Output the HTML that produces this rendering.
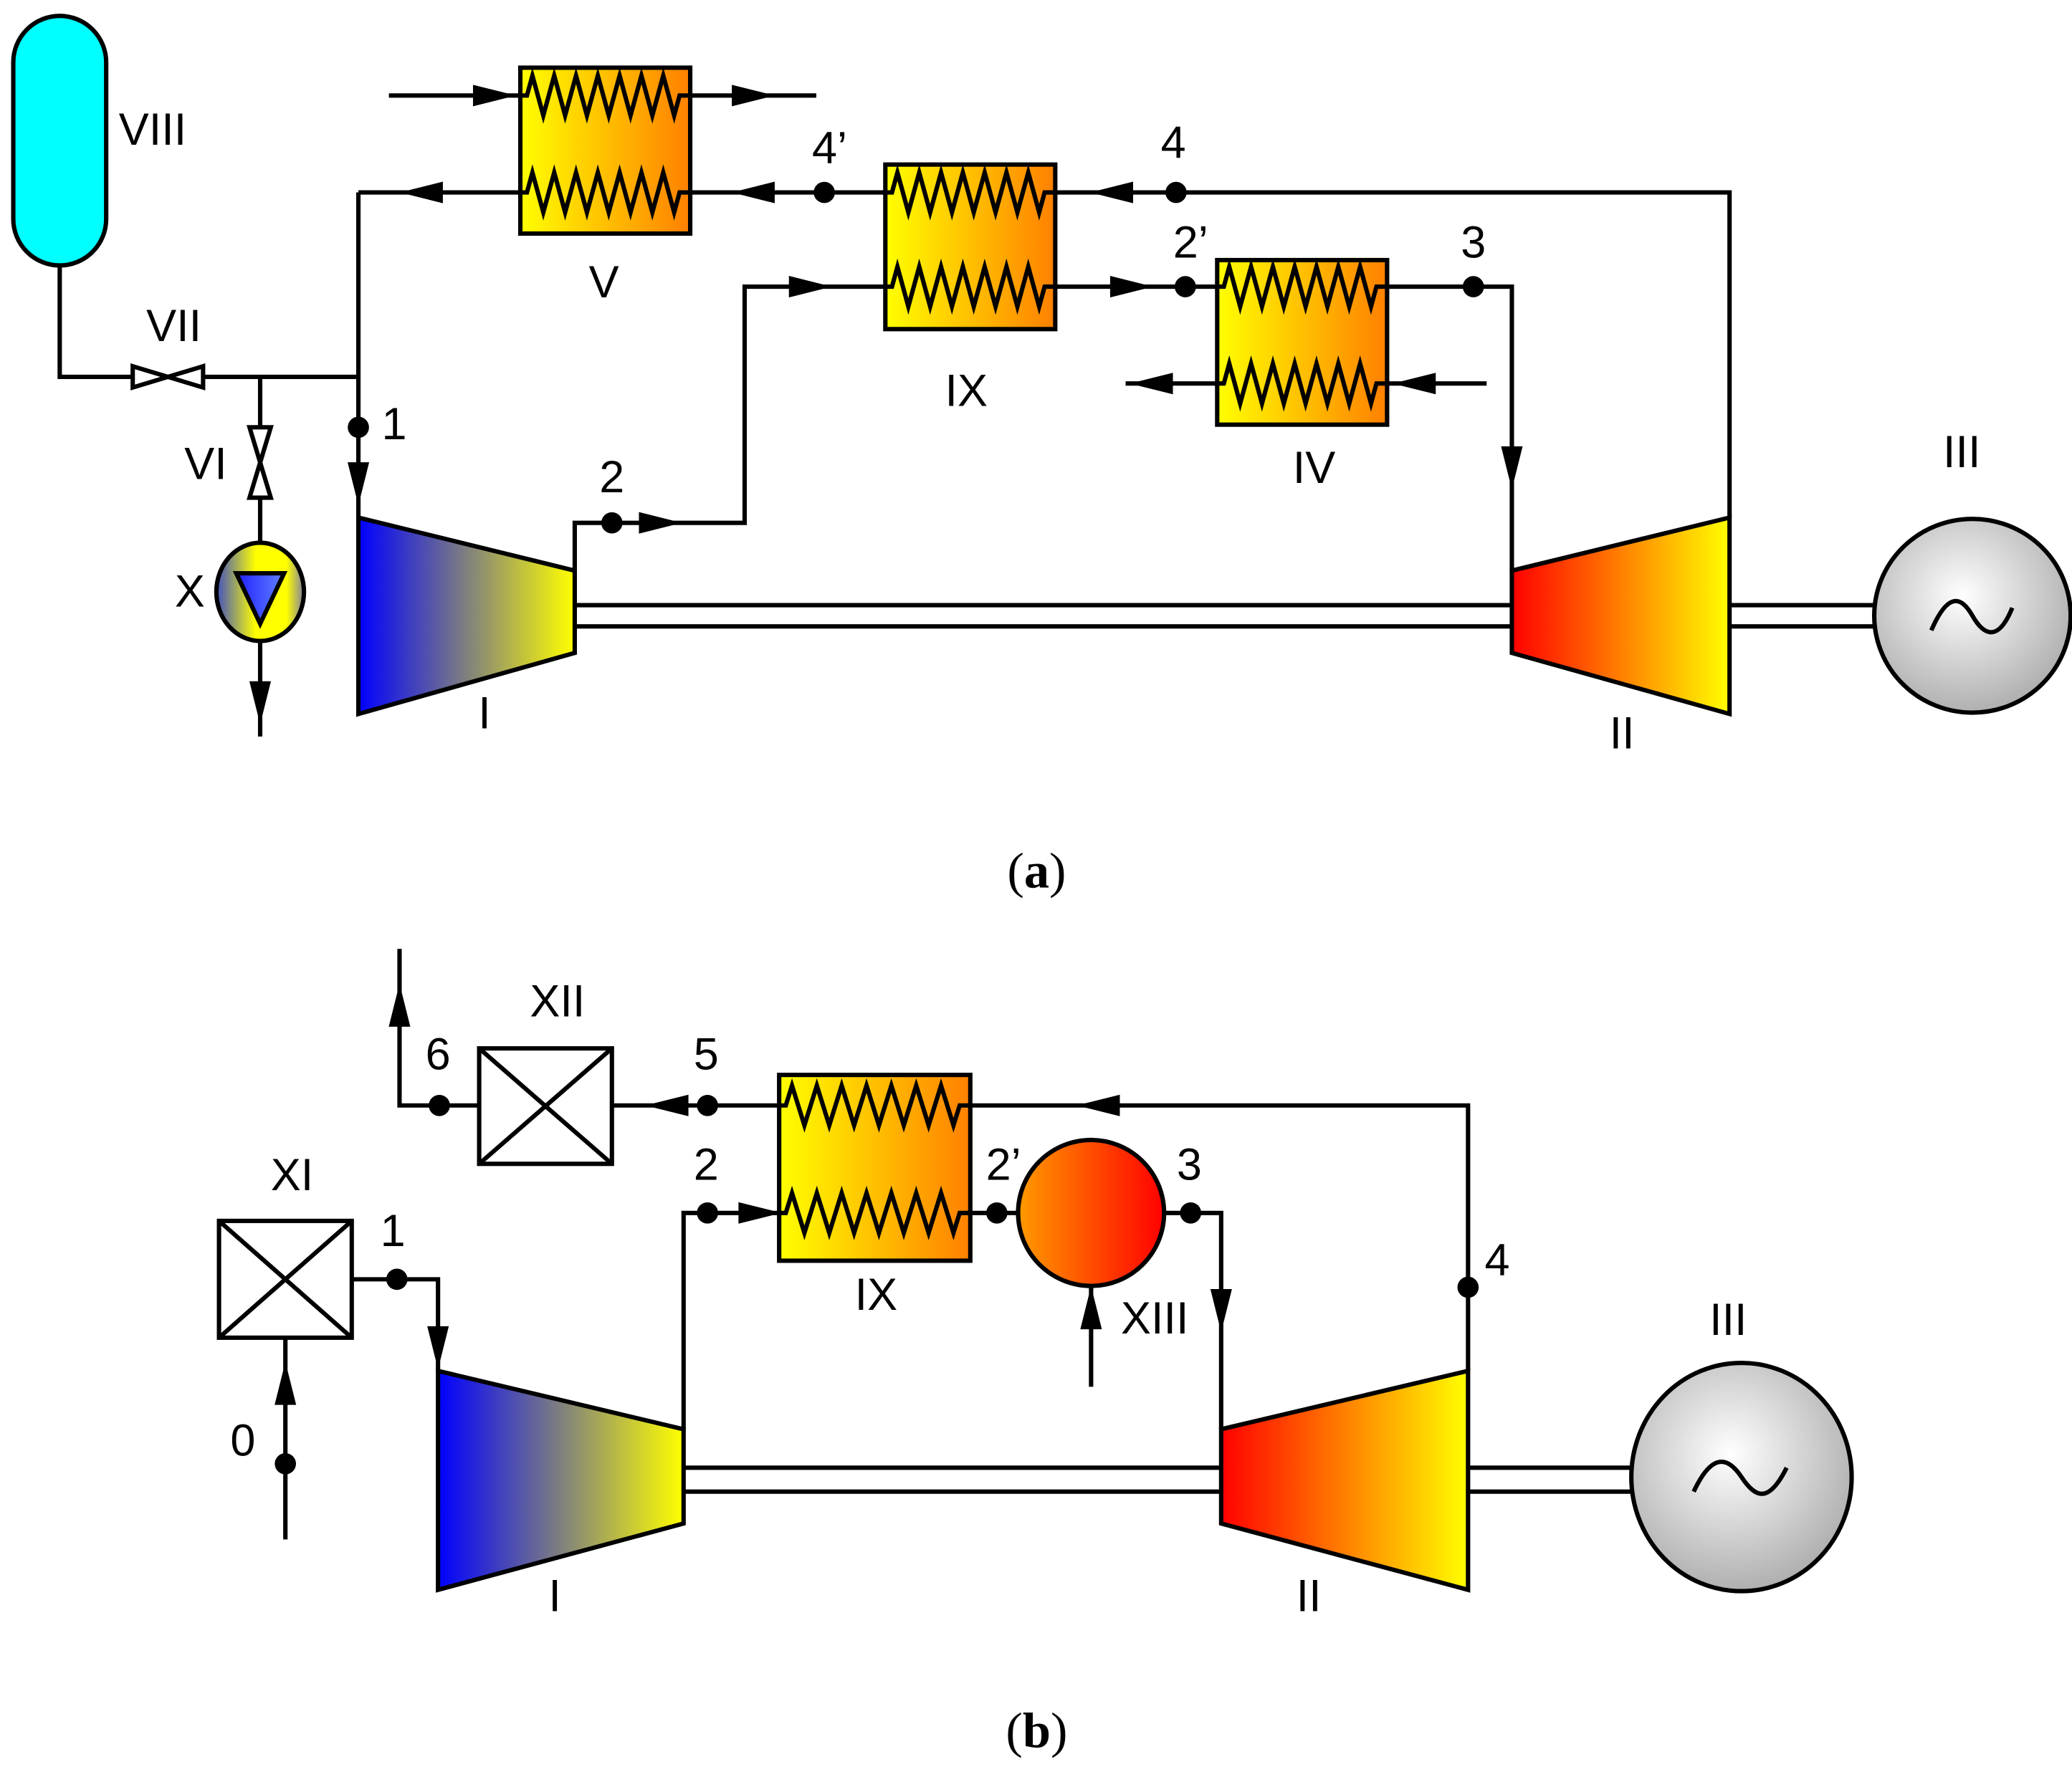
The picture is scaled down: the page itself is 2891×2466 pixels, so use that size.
<!DOCTYPE html>
<html><head><meta charset="utf-8"><style>
html,body{margin:0;padding:0;background:#fff}
svg{display:block}
text{font-family:"Liberation Sans",sans-serif;font-size:34px;fill:#000;text-anchor:middle;dominant-baseline:middle}
.cap{font-family:"Liberation Serif",serif;font-size:38px}
</style></head><body>
<svg id="s" width="2891" height="2466" viewBox="0 0 1561 1331.5" preserveAspectRatio="none" xmlns="http://www.w3.org/2000/svg">
<defs>
<linearGradient id="hx" x1="0" x2="1" y1="0" y2="0"><stop offset="0" stop-color="#ffff00"/><stop offset="1" stop-color="#ff8000"/></linearGradient>
<linearGradient id="comp" x1="0" x2="1"><stop offset="0" stop-color="#0000ff"/><stop offset="1" stop-color="#ffff00"/></linearGradient>
<linearGradient id="turb" x1="0" x2="1"><stop offset="0" stop-color="#ff0000"/><stop offset="1" stop-color="#ffff00"/></linearGradient>
<linearGradient id="red" x1="0" x2="1"><stop offset="0" stop-color="#ff9a00"/><stop offset="1" stop-color="#ff0000"/></linearGradient>
<radialGradient id="gen" cx="0.45" cy="0.4" r="0.6"><stop offset="0" stop-color="#ffffff"/><stop offset="1" stop-color="#b0b0b0"/></radialGradient>
<linearGradient id="pump" x1="0" x2="1"><stop offset="0" stop-color="#4050c0"/><stop offset="0.45" stop-color="#ffff00"/><stop offset="0.8" stop-color="#ffff00"/><stop offset="1" stop-color="#8080a0"/></linearGradient>
<linearGradient id="pumptri" x1="0" x2="1"><stop offset="0" stop-color="#2020ff"/><stop offset="1" stop-color="#6080ff"/></linearGradient>
</defs>
<g id="g" stroke="#000" stroke-width="3.3" fill="none">
<rect x="10" y="12" width="70" height="188" rx="35" ry="35" fill="#00ffff"/>
<path d="M45 200V284H270M196 284V555M270 145V390"/>
<path d="M100 276L153 292V276L100 292Z" fill="#fff"/>
<path d="M188 322L204 375H188L204 322Z" fill="#fff"/>
<ellipse cx="196" cy="446" rx="33" ry="37" fill="url(#pump)"/>
<path d="M178 432H214L196 470Z" fill="url(#pumptri)"/>
<polygon points="270,390 433,430 433,492 270,538" fill="url(#comp)"/>
<polygon points="1139,430 1303,390 1303,538 1139,492" fill="url(#turb)"/>
<path d="M433 430V394H561V216H667M293 72H392M520 72H615M270 145H392M520 145H667M795 145H1303V390M795 216H917M1045 289H1120M917 289H848M1045 216H1139V430"/>
<path d="M433 456H1139M433 472H1139M1303 456H1412M1303 472H1412"/>
<rect x="392" y="51" width="128" height="125" fill="url(#hx)"/>
<rect x="667" y="124" width="128" height="124" fill="url(#hx)"/>
<rect x="917" y="196" width="128" height="124" fill="url(#hx)"/>
<ellipse cx="1486" cy="464" rx="74" ry="73" fill="url(#gen)"/>
<path d="M1455 475C1468 445 1478 450 1486 464S1505 485 1516 458"/>
<path d="M361 833H301V715M461 833H587M731 833H1106V1033M515 1077V914H587M731 914H768M877 914H920V1077M822 1045V969M265 964H330V1033M215 1160V1008"/>
<path d="M515 1106H920M515 1124H920M1106 1106H1230M1106 1124H1230"/>
<rect x="361" y="790" width="100" height="87" fill="#fff"/><path d="M361 790L461 877M461 790L361 877"/>
<rect x="165" y="920" width="100" height="88" fill="#fff"/><path d="M165 920L265 1008M265 920L165 1008"/>
<rect x="587" y="810" width="144" height="140" fill="url(#hx)"/>
<circle cx="822" cy="914" r="55" fill="url(#red)"/>
<polygon points="330,1033 515,1077 515,1148 330,1198" fill="url(#comp)"/>
<polygon points="920,1077 1106,1033 1106,1198 920,1148" fill="url(#turb)"/>
<ellipse cx="1312" cy="1113" rx="83" ry="86" fill="url(#gen)"/>
<path d="M1276 1124C1290 1094 1302 1098 1312 1113S1332 1134 1346 1106"/>
</g>
<g id="t">
<text x="115" y="100">VIII</text><text x="131" y="248">VII</text><text x="155" y="352">VI</text><text x="143" y="448">X</text>
<text x="297" y="322">1</text><text x="461" y="362">2</text><text x="365" y="540">I</text>
<text x="455" y="215">V</text><text x="625" y="114">4’</text><text x="728" y="297">IX</text>
<text x="884" y="110">4</text><text x="897" y="185">2’</text><text x="1110" y="185">3</text>
<text x="990" y="355">IV</text><text x="1222" y="555">II</text><text x="1478" y="343">III</text>
<text class="cap" x="781" y="660">(<tspan font-weight="bold">a</tspan>)</text>
<text x="420" y="757">XII</text><text x="330" y="797">6</text><text x="532" y="797">5</text>
<text x="220" y="888">XI</text><text x="296" y="930">1</text><text x="183" y="1088">0</text>
<text x="532" y="880">2</text><text x="756" y="880">2’</text><text x="896" y="880">3</text>
<text x="660" y="978">IX</text><text x="870" y="996">XIII</text><text x="1128" y="952">4</text>
<text x="418" y="1205">I</text><text x="986" y="1205">II</text><text x="1302" y="997">III</text>
<text class="cap" x="781" y="1308">(<tspan font-weight="bold">b</tspan>)</text>
</g>
</svg>
<script>
var g=document.getElementById('g'),NS='http://www.w3.org/2000/svg';
function el(d,fill){var p=document.createElementNS(NS,'path');p.setAttribute('d',d);if(fill)p.setAttribute('fill',fill);g.appendChild(p);}
function zig(L,R,Y){var x0=L+5,x1=R-8,n=7,w=(x1-x0)/n,d='M'+L+' '+Y+'H'+x0;for(var i=0;i<n;i++){d+='L'+(x0+w*(i+0.25))+' '+(Y-15)+'L'+(x0+w*(i+0.75))+' '+(Y+15);}d+='L'+x1+' '+Y+'H'+R;el(d);}
function arr(x,y,dir){var l=24,h=6,d;if(dir=='r')d='M'+(x+l/2)+' '+y+'L'+(x-l/2)+' '+(y-h)+'V'+(y+h)+'Z';if(dir=='l')d='M'+(x-l/2)+' '+y+'L'+(x+l/2)+' '+(y-h)+'V'+(y+h)+'Z';if(dir=='d')d='M'+x+' '+(y+l/2)+'L'+(x-h)+' '+(y-l/2)+'H'+(x+h)+'Z';if(dir=='u')d='M'+x+' '+(y-l/2)+'L'+(x-h)+' '+(y+l/2)+'H'+(x+h)+'Z';el(d,'#000');}
function dot(x,y){var c=document.createElementNS(NS,'circle');c.setAttribute('cx',x);c.setAttribute('cy',y);c.setAttribute('r',8);c.setAttribute('fill','#000');c.setAttribute('stroke','none');g.appendChild(c);}
zig(392,520,72);zig(392,520,145);zig(667,795,145);zig(667,795,216);zig(917,1045,216);zig(917,1045,289);zig(587,731,833);zig(587,731,914);
arr(370,72,'r');arr(565,72,'r');arr(320,145,'l');arr(570,145,'l');arr(840,145,'l');arr(495,394,'r');arr(608,216,'r');arr(850,216,'r');
arr(1068,289,'l');arr(870,289,'l');arr(1139,350,'d');arr(270,362,'d');arr(196,527,'d');
arr(301,760,'u');arr(505,833,'l');arr(830,833,'l');arr(570,914,'r');arr(920,985,'d');arr(822,988,'u');arr(330,1013,'d');arr(215,1045,'u');
dot(270,322);dot(461,394);dot(621,145);dot(886,145);dot(893,216);dot(1110,216);
dot(331,833);dot(533,833);dot(533,914);dot(751,914);dot(897,914);dot(1106,970);dot(299,964);dot(215,1103);
</script>
</body></html>
